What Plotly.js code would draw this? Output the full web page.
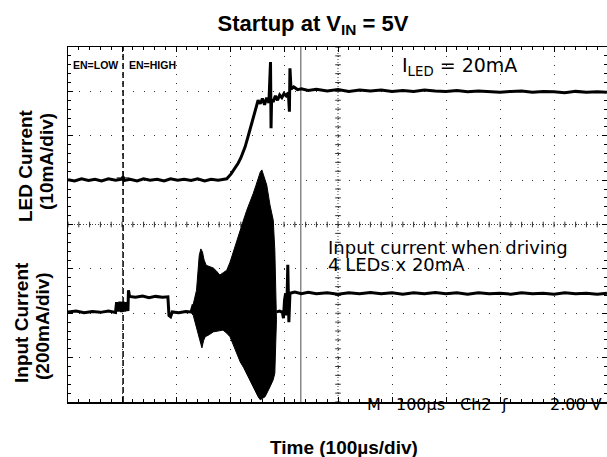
<!DOCTYPE html>
<html><head><meta charset="utf-8">
<script src="https://cdn.plot.ly/plotly-3.0.1.min.js"></script>
<style>body{margin:0;background:#fff}</style>
</head><body>
<div id="chart" style="width:607px;height:457px"></div>
<script>
// Ch1: LED current, time in µs, value in scope divisions
const ledTime = [0,12,25,38,50,62,75,88,100,102,104,115,128,140,152,165,178,190,203,215,228,240,253,265,278,290,294,302,309,315,320,328,335,340,345,349,352,356,360,364,368,372,375,376,377,380,384,388,392,396,400,404,408,410,411,413,418,425,432,445,460,480,500,520,540,560,580,600,620,640,660,680,700,720,740,760,780,800,820,840,860,880,900,920,940,960,980,998];
const ledDiv  = [5.01,4.98,5.03,4.99,5.02,4.98,5.03,5.00,5.02,5.08,4.99,5.02,4.98,5.03,5.00,5.02,4.98,5.03,5.00,5.02,4.99,5.03,4.98,5.02,5.00,5.02,5.03,5.14,5.26,5.38,5.50,5.75,6.05,6.28,6.50,6.65,6.80,6.72,6.84,6.70,6.86,6.74,7.66,6.17,6.82,6.76,6.90,6.80,6.92,6.86,6.95,6.90,6.97,6.54,7.52,7.05,7.10,7.04,7.06,7.02,7.05,7.01,7.04,7.00,7.03,7.01,7.03,7.00,7.02,7.00,7.03,7.01,7.00,7.02,6.99,7.01,7.00,6.98,7.00,7.01,6.98,7.00,6.99,6.97,7.00,6.98,6.99,6.98];

// Ch2: input current, outside the switching burst
const inTime = [0,15,30,45,60,75,88,90,93,96,99,102,105,108,111,112,114,125,138,150,162,175,185,187,190,193,205,218,228,232,null,386,392,397,399,401,403,405,407,409,411,420,432,445,460,480,500,520,540,560,580,600,620,640,660,680,700,720,740,760,780,800,820,840,860,880,900,920,940,960,980,998];
const inDiv  = [2.03,2.05,2.01,2.04,2.02,2.05,2.02,2.25,2.04,2.26,2.03,2.26,2.04,2.25,2.05,2.52,2.38,2.36,2.39,2.35,2.38,2.36,2.37,1.95,1.92,2.03,2.01,2.04,2.03,2.20,null,2.03,2.05,2.02,1.89,2.30,2.45,1.95,3.09,1.80,2.45,2.48,2.44,2.47,2.44,2.46,2.43,2.46,2.44,2.47,2.44,2.46,2.43,2.46,2.44,2.47,2.44,2.46,2.43,2.46,2.44,2.45,2.43,2.46,2.44,2.45,2.43,2.46,2.44,2.45,2.43,2.45];

// Ch2 switching burst envelope
const burstUpperTime = [229,232,238,243,246,249,252,256,262,269,275,281,288,294,300,306,312,319,325,331,337,343,348,352,356,359,362,365,368,374,380,383,386];
const burstUpper     = [2.05,2.23,2.52,3.30,3.45,3.38,3.20,3.08,3.05,3.02,2.95,2.86,2.92,2.97,3.15,3.39,3.62,3.87,4.10,4.32,4.50,4.70,4.88,5.05,5.18,5.23,5.10,4.98,4.89,4.44,4.10,3.42,2.30];
const burstLowerTime = [229,232,238,244,248,251,254,262,269,278,287,294,300,306,312,319,325,331,338,346,352,356,360,365,370,374,380,383,386];
const burstLower     = [2.00,1.95,1.70,1.40,1.22,1.38,1.47,1.52,1.58,1.60,1.62,1.55,1.47,1.28,1.10,0.90,0.78,0.65,0.45,0.27,0.12,0.05,0.08,0.12,0.25,0.34,0.50,0.65,1.85];

const enTime = 102;       // EN low -> high
const cursorTime = 431;   // scope cursor
const ch1Ground = 5.0, ch2Ground = 2.03;
const trigMarks = [300, 394];

// ---- geometry helpers (pixel -> paper) ----
const L = 68, T = 47, PW = 539, PH = 355;
const px = x => (x - L) / PW;
const py = y => (T + PH - y) / PH;

// graticule centre-line ticks
const hTickX = [], hTickY = [], vTickX = [], vTickY = [];
for (let i = 0; i <= 50; i++) { hTickX.push(i * 20); hTickY.push(4); }
for (let i = 0; i <= 40; i++) { vTickX.push(500); vTickY.push(i * 0.2); }

const polyX = burstUpperTime.concat(burstLowerTime.slice().reverse());
const polyY = burstUpper.concat(burstLower.slice().reverse());

const traces = [
  {x:[0,1000], y:[4,4], mode:'lines', line:{color:'#444', width:1, dash:'1px,2px'}, hoverinfo:'skip'},
  {x:[500,500], y:[0,8], mode:'lines', line:{color:'#444', width:1, dash:'1px,2px'}, hoverinfo:'skip'},
  {x:hTickX, y:hTickY, mode:'markers', marker:{symbol:'line-ns', size:4, line:{width:1, color:'#333'}}, hoverinfo:'skip'},
  {x:vTickX, y:vTickY, mode:'markers', marker:{symbol:'line-ew', size:4, line:{width:1, color:'#333'}}, hoverinfo:'skip'},
  {x:[enTime, enTime], y:[0,8], mode:'lines', line:{color:'#000', width:1.5, dash:'6px,3px'}},
  {x:[cursorTime, cursorTime], y:[0,8], mode:'lines', line:{color:'#888', width:1.5}},
  {x:polyX, y:polyY, mode:'lines', fill:'toself', fillcolor:'#000', line:{color:'#000', width:1}},
  {x:inTime, y:inDiv, mode:'lines', line:{color:'#000', width:3}, connectgaps:false},
  {x:ledTime, y:ledDiv, mode:'lines', line:{color:'#000', width:3}},
  {x:[enTime], y:[5.05], mode:'markers', marker:{symbol:'cross-thin', size:9, line:{width:1, color:'#000'}}},
  {x:[-9, -9], y:[ch1Ground, ch2Ground], mode:'markers', cliponaxis:false,
   marker:{symbol:'triangle-right', size:[5,9], color:'#000'}},
  {x:trigMarks, y:[8.11, 8.11], mode:'markers', cliponaxis:false,
   marker:{symbol:'line-ns', size:4, line:{width:1, color:'#000'}}}
];

const bold = s => '<b>' + s + '</b>';
const F = 'Liberation Sans, Arial, sans-serif';
const FW = 'DejaVu Sans, Liberation Sans, sans-serif';
function ann(text, x, y, size, opts, fam) {
  return Object.assign({text, x:px(x), y:py(y), xref:'paper', yref:'paper', showarrow:false,
    xanchor:'center', yanchor:'middle', font:{family:fam || F, size, color:'#000'}}, opts || {});
}

const annotations = [
  ann(bold('LED Current'), 25, 166, 19, {textangle:-90}),
  ann(bold('(10mA/div)'), 46, 162, 19, {textangle:-90}),
  ann(bold('Input Current'), 21, 323, 19, {textangle:-90}),
  ann(bold('(200mA/div)'), 42, 326, 19, {textangle:-90}),
  ann(bold('Time (100µs/div)'), 344, 447, 19),
  ann(bold('EN=LOW'), 95, 65, 10.5),
  ann(bold('EN=HIGH'), 152.5, 65, 10.5),
  ann('I<sub>LED</sub> = 20mA', 400, 66, 19, {xanchor:'left'}, FW),
  ann('Input current when driving', 326, 247, 18, {xanchor:'left'}, FW),
  ann('4 LEDs x 20mA', 326, 264, 18, {xanchor:'left'}, FW),
  ann('M', 374, 404, 16, {}, FW),
  ann('100µs', 420, 404, 16, {}, FW),
  ann('Ch2', 475.5, 404, 16, {}, FW),
  ann('ʃ', 504, 404, 16, {}, FW),
  ann('2.00 V', 576, 404, 16, {}, FW)
];

const axisCommon = {
  showline:true, linecolor:'#000', linewidth:1.5, mirror:'allticks',
  ticks:'inside', ticklen:5, tickcolor:'#000', tickwidth:1,
  showticklabels:false, zeroline:false, showgrid:true, gridcolor:'#333', gridwidth:1,
  fixedrange:true
};

const layout = {
  width:607, height:457,
  margin:{l:L, r:0, t:T, b:457 - T - PH},
  paper_bgcolor:'#fff', plot_bgcolor:'#fff',
  showlegend:false,
  title:{text:bold('Startup at V<sub>IN</sub> = 5V'), x:313/607, xref:'container', xanchor:'center',
         y:1 - 23/457, yref:'container', yanchor:'middle', font:{family:F, size:22, color:'#000'}},
  xaxis:Object.assign({}, axisCommon, {range:[0, 998.1], dtick:100, tick0:0, griddash:'1px,7.875px',
         minor:{dtick:20, tick0:0, ticks:'inside', ticklen:3, tickcolor:'#000', showgrid:false}}),
  yaxis:Object.assign({}, axisCommon, {range:[0, 8], dtick:1, tick0:0, griddash:'1px,9.8px',
         minor:{dtick:0.2, tick0:0, ticks:'inside', ticklen:3, tickcolor:'#000', showgrid:false}}),
  annotations
};

Plotly.newPlot('chart', traces, layout, {staticPlot:true, displayModeBar:false});
</script>
</body></html>
